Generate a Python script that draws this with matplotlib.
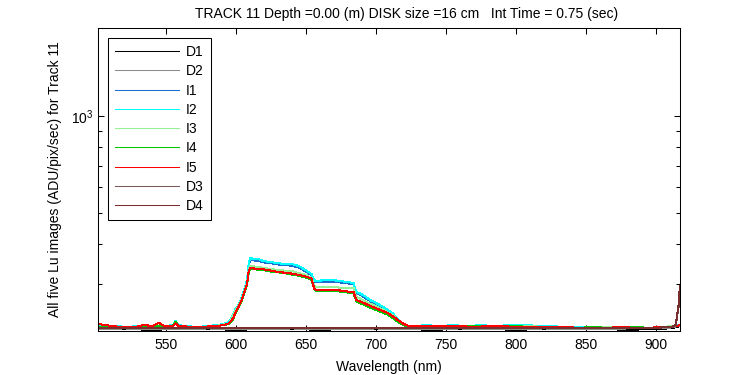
"""Lu spectra for Track 11 on a log axis, drawn like the original MATLAB figure."""

import matplotlib

matplotlib.use("Agg")

import matplotlib.pyplot as plt
from matplotlib.ticker import FixedLocator, LogFormatterSciNotation, NullFormatter

plt.rcParams["font.family"] = ["Liberation Sans", "DejaVu Sans"]
plt.rcParams["font.size"] = 10

TITLE = "TRACK 11 Depth =0.00 (m) DISK size =16 cm   Int Time = 0.75 (sec)"
XLABEL = "Wavelength (nm)"
YLABEL = "All five Lu images (ADU/pix/sec) for Track 11"

# wavelength grid of the illuminated images (nm)
wl = [502, 508, 515, 522, 530, 535, 540, 545, 547, 550, 555, 557, 559, 565, 572,
      580, 586, 591, 595, 598, 600, 602, 604, 606, 608, 609, 610, 613, 616, 620,
      625, 630, 635, 640, 645, 650, 654, 656, 658, 662, 666, 670, 675, 680, 684,
      686, 688, 692, 696, 700, 704, 708, 712, 716, 720, 723, 728, 736, 745, 755,
      765, 775, 785, 795, 805, 815, 825, 835, 845, 855, 865, 875, 885, 895, 903,
      908, 912, 915, 917]

i1 = [221, 221, 221, 221, 221, 222, 221, 221, 222, 221, 222, 227, 222, 221, 221,
      221, 222, 224, 227, 238, 250, 256, 268, 286, 305, 337, 356, 355, 354, 350,
      348, 345, 343, 342, 337, 328, 319, 305, 304, 305, 305, 305, 303, 301, 299,
      281, 279, 272, 265, 260, 254, 248, 241, 231, 223, 221, 221, 222, 221, 222,
      221, 222, 221, 222, 223, 221, 221, 220, 220, 219, 220, 219, 220, 219, 220,
      221, 222, 223, 224]
i2 = [222, 220, 222, 220, 222, 223, 222, 222, 223, 222, 223, 230, 223, 222, 220,
      222, 223, 225, 228, 240, 252, 258, 271, 289, 308, 341, 361, 359, 359, 353,
      351, 348, 346, 346, 341, 331, 322, 308, 306, 308, 308, 308, 306, 304, 302,
      283, 281, 275, 267, 262, 256, 250, 243, 232, 224, 222, 222, 223, 222, 223,
      222, 223, 222, 223, 224, 222, 222, 220, 220, 219, 220, 219, 220, 219, 220,
      221, 222, 223, 224]
i3 = [221, 221, 220, 221, 221, 222, 221, 222, 221, 221, 222, 227, 221, 221, 221,
      221, 222, 224, 226, 238, 250, 256, 268, 285, 302, 328, 341, 340, 339, 336,
      334, 331, 330, 329, 324, 320, 313, 295, 293, 293, 293, 293, 292, 292, 291,
      273, 271, 265, 260, 256, 250, 245, 240, 230, 224, 221, 221, 222, 221, 222,
      221, 222, 221, 222, 222, 221, 221, 220, 219, 219, 220, 219, 219, 219, 220,
      221, 222, 222, 223]
i4 = [221, 221, 221, 220, 221, 222, 221, 222, 221, 221, 222, 229, 222, 221, 220,
      221, 222, 223, 225, 233, 245, 254, 265, 281, 298, 322, 334, 334, 332, 331,
      328, 326, 324, 321, 318, 314, 309, 288, 285, 286, 286, 285, 284, 282, 281,
      265, 262, 258, 253, 249, 245, 241, 235, 228, 223, 221, 221, 221, 222, 221,
      222, 221, 221, 222, 221, 221, 220, 219, 219, 220, 219, 219, 220, 219, 220,
      221, 221, 222, 223]
i5 = [225, 223, 221, 221, 221, 224, 221, 227, 224, 221, 222, 226, 222, 221, 221,
      221, 222, 223, 226, 234, 246, 255, 266, 282, 300, 325, 336, 335, 334, 333,
      330, 327, 325, 323, 320, 316, 312, 289, 287, 288, 287, 287, 286, 284, 283,
      267, 265, 261, 256, 252, 248, 244, 238, 231, 225, 222, 221, 222, 221, 222,
      221, 221, 222, 221, 221, 220, 220, 220, 219, 219, 219, 220, 219, 219, 220,
      220, 221, 222, 223]

# wavelength grid of the dark frames (nm)
wld = [502, 520, 540, 560, 580, 600, 620, 640, 660, 680, 700, 720, 740, 760,
       780, 800, 820, 840, 860, 880, 900, 908, 912, 914, 916, 917]
d1 = [217, 217, 216, 217, 217, 216, 217, 217, 216, 217, 217, 217, 216, 217,
      217, 216, 217, 217, 217, 216, 217, 218, 219, 220, 221, 222]
d2 = [217, 218, 217, 217, 218, 217, 217, 218, 217, 217, 218, 217, 217, 218,
      217, 217, 218, 217, 217, 218, 218, 219, 220, 221, 222, 223]
d3 = [218, 218, 219, 218, 218, 218, 219, 218, 218, 219, 218, 218, 218, 219,
      218, 218, 218, 219, 218, 218, 219, 220, 221, 223, 254, 294]
d4 = [219, 218, 218, 219, 218, 219, 218, 218, 219, 218, 219, 218, 219, 218,
      218, 219, 218, 218, 219, 218, 219, 220, 221, 224, 256, 296]

SERIES = [
    ("D1", wld, d1, "#000000"),
    ("D2", wld, d2, "#8c8c8c"),
    ("I1", wl, i1, "#1e6ed2"),
    ("I2", wl, i2, "#00ffff"),
    ("I3", wl, i3, "#96f096"),
    ("I4", wl, i4, "#00c800"),
    ("I5", wl, i5, "#ff0000"),
    ("D3", wld, d3, "#7c5a5a"),
    ("D4", wld, d4, "#7a2e2e"),
]


def main():
    fig = plt.figure(figsize=(7.5, 3.75), dpi=100)
    ax = fig.add_axes([0.1307, 0.1173, 0.776, 0.808])

    for label, x, y, color in SERIES:
        ax.plot(x, y, color=color, lw=0.75, label=label, antialiased=False)

    ax.set_yscale("log")
    ax.set_xlim(501.6, 917.1)
    ax.set_ylim(214, 1880)
    ax.set_xticks([550, 600, 650, 700, 750, 800, 850, 900])
    ax.yaxis.set_major_locator(FixedLocator([1000]))
    ax.yaxis.set_major_formatter(LogFormatterSciNotation())
    ax.yaxis.set_minor_locator(FixedLocator([300, 400, 500, 600, 700, 800, 900]))
    ax.yaxis.set_minor_formatter(NullFormatter())
    ax.tick_params(which="both", direction="in", top=True, right=True,
                   width=0.75, labelsize=10)
    ax.tick_params(which="major", length=4.2)
    ax.tick_params(which="minor", length=3)
    ax.tick_params(axis="x", pad=5)
    for spine in ax.spines.values():
        spine.set_linewidth(0.75)

    ax.set_xlabel(XLABEL, labelpad=6)
    ax.set_ylabel(YLABEL, labelpad=6)
    fig.text(407 / 750, 1 - 14 / 375, TITLE, ha="center", va="center")

    leg = ax.legend(loc="upper left", bbox_to_anchor=(0.0172, 0.967),
                    borderaxespad=0, borderpad=0.5, handlelength=4.6,
                    handletextpad=0.5, labelspacing=0.38, fancybox=False,
                    framealpha=1, edgecolor="black")
    leg.get_frame().set_linewidth(0.75)

    fig.savefig("out.png", dpi=100)
    plt.close(fig)


if __name__ == "__main__":
    main()
